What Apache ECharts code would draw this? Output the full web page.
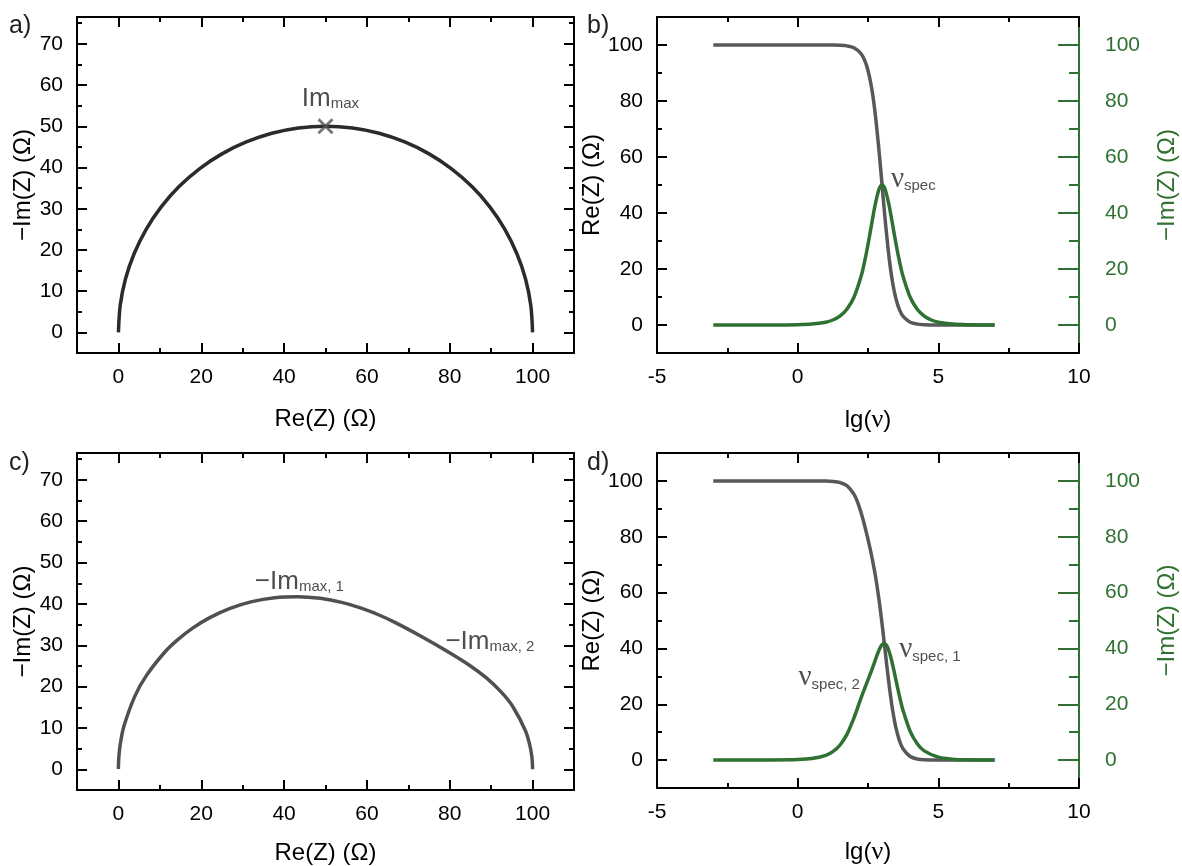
<!DOCTYPE html>
<html><head><meta charset="utf-8">
<script src="https://cdn.jsdelivr.net/npm/echarts@6/dist/echarts.min.js"></script>
<style>html,body{margin:0;padding:0;background:#fff}#c{width:1182px;height:866px}</style>
</head><body><div id="c"></div>
<script>
// ---- data ----
// panel a: Nyquist semicircle (Re, -Im)
const reA = [100, 99.57, 98.30, 96.19, 93.30, 89.67, 85.36, 80.44, 75.00, 69.13, 62.94, 56.53, 50, 43.47, 37.06, 30.87, 25.00, 19.56, 14.64, 10.33, 6.70, 3.81, 1.70, 0.43, 0];
const imA = [0, 6.53, 12.94, 19.13, 25.00, 30.44, 35.36, 39.67, 43.30, 46.19, 48.30, 49.57, 50, 49.57, 48.30, 46.19, 43.30, 39.67, 35.36, 30.44, 25.00, 19.13, 12.94, 6.53, 0];
const imMaxA = [50, 50];
// panel b: Bode-type plot
const lgNuB = [-3,-2,-1,0,0.5,1,1.25,1.5,1.75,2,2.25,2.375,2.5,2.625,2.75,2.875,2.9375,3,3.0625,3.125,3.25,3.375,3.5,3.625,3.75,4,4.25,4.5,4.75,5,5.5,6,7];
const reB = [100,100,100,100,100,99.99,99.97,99.9,99.68,99.01,96.94,94.68,90.91,84.91,75.98,64.01,57.15,50,42.85,35.99,24.02,15.09,9.09,5.32,3.06,0.99,0.32,0.1,0.03,0.01,0,0,0];
const imB = [0,0,0.01,0.1,0.32,1.0,1.78,3.16,5.6,9.9,17.24,22.45,28.75,35.81,42.72,48.0,49.49,50,49.49,48.0,42.72,35.81,28.75,22.45,17.24,9.9,5.6,3.16,1.78,1.0,0.32,0.1,0.01];
// panels c / d: two overlapping processes
const lgNuD = [-3,-2,-1,0,0.5,1,1.25,1.5,1.75,2,2.125,2.25,2.375,2.5,2.625,2.75,2.8125,2.875,2.9375,3,3.0625,3.125,3.1875,3.25,3.3125,3.375,3.4375,3.5,3.625,3.75,4,4.25,4.5,5,5.5,6,7];
const reD = [100,100,100,100,99.99,99.94,99.82,99.45,98.33,95.28,92.51,88.77,84.20,79.06,73.38,66.76,62.92,58.64,53.91,48.76,43.31,37.73,32.22,26.97,22.18,17.92,14.27,11.22,6.74,3.95,1.29,0.41,0.13,0.01,0,0,0];
const imD = [0,0,0.02,0.17,0.54,1.71,3.02,5.32,9.20,15.08,18.60,22.16,25.53,28.73,32.01,35.54,37.32,38.98,40.37,41.35,41.76,41.51,40.55,38.92,36.74,34.15,31.31,28.37,22.66,17.64,10.27,5.84,3.30,1.04,0.33,0.1,0.01];
// tick labels
const nyqXMajor = [0,20,40,60,80,100];
const nyqXMinor = [10,30,50,70,90];
const nyqYMajor = [0,10,20,30,40,50,60,70];
const nyqYMinor = [5,15,25,35,45,55,65,75];
const bodeXMajor = [-5,0,5,10];
const bodeXMinor = [-2.5,2.5,7.5];
const bodeYMajor = [0,20,40,60,80,100];
const bodeYMinor = [10,30,50,70,90];

const FONT = '"Liberation Sans", Arial, sans-serif';
const SERIF = '"Liberation Serif", "Times New Roman", serif';
const BLACK = '#000';
const GREEN = '#2E7131';
const GRAY_A = '#2b2b2b', GRAY_C = '#505050', GRAY_B = '#585858';

const grids = [
  {left:77, top:17, width:497, height:336},
  {left:657, top:17, width:422, height:336},
  {left:77, top:453, width:497, height:337},
  {left:657, top:453, width:422, height:337}
];

const xAxes = [], yAxes = [];
function addAxis(list, grid, position, min, max, major, minor, opt) {
  const color = opt.color || BLACK;
  const main = {
    type:'value', gridIndex:grid, position, min, max,
    axisLine:{show:true, onZero:false, lineStyle:{color, width:2}},
    axisTick:{show:true, inside:true, length:opt.majorLen || 10, customValues:major, lineStyle:{color, width:2}},
    axisLabel:{show:!!opt.labels, customValues:major, margin:opt.margin || 14, color, fontSize:21, fontFamily:FONT},
    splitLine:{show:false},
    name:opt.name || '', nameLocation:'middle', nameGap:opt.nameGap || 40,
    nameTextStyle:{color, fontSize:24, fontFamily:FONT, rich:{n:{fontFamily:SERIF, fontSize:26, color}}}
  };
  if (opt.nameRotate !== undefined) main.nameRotate = opt.nameRotate;
  const minorAx = {
    type:'value', gridIndex:grid, position, min, max,
    axisLine:{show:false, onZero:false},
    axisTick:{show:true, inside:true, length:opt.minorLen || 5, customValues:minor, lineStyle:{color, width:2}},
    axisLabel:{show:false}, splitLine:{show:false}
  };
  list.push(main, minorAx);
  return list.length - 2;
}

const idx = {};
// panel a & c (Nyquist)
[0, 2].forEach(g => {
  idx['x'+g] = addAxis(xAxes, g, 'bottom', -10, 110, nyqXMajor, nyqXMinor, {labels:true, name:'Re(Z) (Ω)', nameGap: g === 0 ? 54 : 51});
  addAxis(xAxes, g, 'top', -10, 110, nyqXMajor, nyqXMinor, {});
  idx['y'+g] = addAxis(yAxes, g, 'left', -5, 76.5, nyqYMajor, nyqYMinor, {labels:true, name:'−Im(Z) (Ω)', nameGap:40, nameRotate:90});
  addAxis(yAxes, g, 'right', -5, 76.5, nyqYMajor, nyqYMinor, {});
});
// panel b & d (Bode)
[1, 3].forEach(g => {
  idx['x'+g] = addAxis(xAxes, g, 'bottom', -5, 10, bodeXMajor, bodeXMinor, {labels:true, name:'lg({n|ν})', nameGap: g === 1 ? 54 : 51});
  addAxis(xAxes, g, 'top', -5, 10, bodeXMajor, bodeXMinor, {});
  idx['y'+g] = addAxis(yAxes, g, 'left', -10, 110, bodeYMajor, bodeYMinor, {labels:true, name:'Re(Z) (Ω)', nameGap:44, nameRotate:90});
  idx['r'+g] = addAxis(yAxes, g, 'right', -10, 110, bodeYMajor, bodeYMinor, {labels:true, color:GREEN, majorLen:21, minorLen:10, margin:26, name:'−Im(Z) (Ω)', nameGap:76, nameRotate:90});
});

function line(g, data, color, yKey, smooth) {
  return {type:'line', xAxisIndex:idx['x'+g], yAxisIndex:idx[(yKey||'y')+g], data, showSymbol:false, symbol:'none',
    smooth:smooth, lineStyle:{color, width:3.5, join:'round', cap:'butt'}, z:3, silent:true};
}
const subRich = {
  m:{fontFamily:FONT, fontSize:26, color:'#222', verticalAlign:'bottom', lineHeight:28},
  n:{fontFamily:SERIF, fontSize:29, color:'#222', verticalAlign:'bottom', lineHeight:28},
  s:{fontFamily:FONT, fontSize:15, color:'#222', verticalAlign:'bottom', lineHeight:9}
};
function note(g, pos, text, yKey) {
  return {type:'scatter', xAxisIndex:idx['x'+g], yAxisIndex:idx[(yKey||'y')+g], data:[pos], symbolSize:1,
    itemStyle:{color:'rgba(0,0,0,0)'}, silent:true, z:5,
    label:{show:true, position:'inside', formatter:text, rich:subRich}};
}

const series = [
  line(0, reA.map((r,i)=>[r, imA[i]]), GRAY_A, 'y', 0.3),
  {type:'scatter', xAxisIndex:idx.x0, yAxisIndex:idx.y0, data:[imMaxA], symbol:'path://M0,0L10,10M10,0L0,10', symbolSize:14,
    itemStyle:{color:'rgba(0,0,0,0)', borderColor:'#555', borderWidth:3}, z:4, silent:true},
  note(0, [51.2, 57], '{m|Im}{s|max}'),
  line(1, lgNuB.map((x,i)=>[x, reB[i]]), GRAY_B, 'y', 0.3),
  line(1, lgNuB.map((x,i)=>[x, imB[i]]), GREEN, 'r', 0.3),
  note(1, [4.11, 52], '{n|ν}{s|spec}'),
  line(2, reD.map((r,i)=>[r, imD[i]]), GRAY_C, 'y', 0.3),
  note(2, [43.7, 45.7], '{m|−Im}{s|max, 1}'),
  note(2, [89.7, 31.1], '{m|−Im}{s|max, 2}'),
  line(3, lgNuD.map((x,i)=>[x, reD[i]]), GRAY_B, 'y', 0.3),
  line(3, lgNuD.map((x,i)=>[x, imD[i]]), GREEN, 'r', 0.3),
  note(3, [4.70, 39.3], '{n|ν}{s|spec, 1}'),
  note(3, [1.12, 29.3], '{n|ν}{s|spec, 2}')
];

const panelText = (t, left, top) => ({type:'text', left, top, style:{text:t, font:'25px "Liberation Sans", Arial, sans-serif', fill:'#222'}});

const chart = echarts.init(document.getElementById('c'));
chart.setOption({
  animation:false,
  backgroundColor:'#fff',
  grid:grids,
  xAxis:xAxes,
  yAxis:yAxes,
  series,
  graphic:[panelText('a)', 9, 14), panelText('b)', 587, 14), panelText('c)', 9, 451), panelText('d)', 587, 451)]
});
</script></body></html>
